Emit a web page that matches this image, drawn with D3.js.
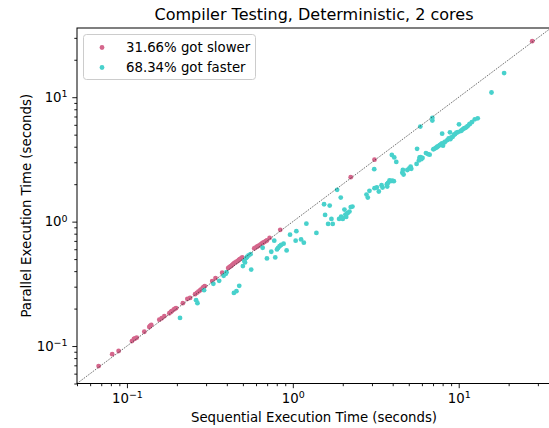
<!DOCTYPE html>
<html>
<head>
<meta charset="utf-8">
<script src="https://cdn.jsdelivr.net/npm/d3@7"></script>
<style>
  body { margin: 0; background: #fff; }
  text { font-family: "DejaVu Sans", sans-serif; fill: #000; }
</style>
</head>
<body>
<script>
// labels
const title = "Compiler Testing, Deterministic, 2 cores";
const xLabel = "Sequential Execution Time (seconds)";
const yLabel = "Parallel Execution Time (seconds)";
const legendLabels = ["31.66% got slower", "68.34% got faster"];
const majorTicks = [0.1, 1, 10];
const tickExponents = ["\u22121", "0", "1"];

// [sequential, parallel] seconds
const slower = [
  [0.0675, 0.069], [0.0815, 0.0861], [0.0891, 0.0912], [0.1072, 0.1097], [0.1102, 0.1139],
  [0.1145, 0.1167], [0.1273, 0.1303], [0.1364, 0.1423], [0.1402, 0.1477], [0.1567, 0.163],
  [0.1621, 0.1673], [0.168, 0.1738], [0.1802, 0.1835], [0.1862, 0.1905], [0.1915, 0.1963],
  [0.1977, 0.2014], [0.2172, 0.221], [0.2313, 0.2394], [0.2402, 0.2438], [0.2576, 0.2612],
  [0.2698, 0.2742], [0.2788, 0.2844], [0.2866, 0.2951], [0.2946, 0.3029], [0.3266, 0.3327],
  [0.342, 0.3516], [0.375, 0.3882], [0.4074, 0.4236], [0.4236, 0.4395], [0.4365, 0.456],
  [0.4508, 0.4699], [0.4667, 0.4842], [0.4797, 0.5], [0.4955, 0.5152], [0.5848, 0.6095],
  [0.6081, 0.6289], [0.6281, 0.6442], [0.6516, 0.6683], [0.673, 0.6856], [0.6982, 0.7063],
  [0.7244, 0.74], [0.84, 0.86], [2.234, 2.275], [3.107, 3.15], [27.73, 28.2],
  [0.415, 0.432], [0.43, 0.447], [0.443, 0.463], [0.458, 0.477], [0.473, 0.492],
  [0.488, 0.507], [0.596, 0.619], [0.618, 0.636], [0.64, 0.656], [0.662, 0.677],
  [0.686, 0.696], [0.264, 0.268], [0.275, 0.279], [0.291, 0.299], [0.184, 0.188],
  [0.194, 0.199], [0.112, 0.115], [0.138, 0.145]
];

const faster = [
  [0.2089, 0.1683], [0.2612, 0.2339], [0.2661, 0.221], [0.2917, 0.2812], [0.3319, 0.3162],
  [0.3597, 0.3342], [0.3828, 0.3672], [0.3948, 0.3808], [0.3981, 0.392], [0.4413, 0.2675],
  [0.4571, 0.2761], [0.4753, 0.3048], [0.5, 0.4395], [0.5093, 0.4842], [0.5236, 0.5093],
  [0.5408, 0.5346], [0.5559, 0.548], [0.561, 0.4121], [0.6577, 0.6166], [0.6982, 0.5058],
  [0.7413, 0.5728], [0.7727, 0.7031], [0.7834, 0.5152], [0.8027, 0.5979], [0.8321, 0.6339],
  [0.8799, 0.6647], [0.9173, 0.5869], [0.962, 0.7856], [1.04, 0.7031], [1.05, 0.8384],
  [1.121, 0.7194], [1.165, 0.6768], [1.207, 0.9635], [1.387, 0.811], [1.543, 1.379],
  [1.668, 1.346], [1.565, 1.132], [1.709, 1.051], [1.632, 0.958], [1.74, 0.958],
  [1.849, 1.801], [1.945, 1.561], [2.047, 1.25], [1.901, 1.051], [1.955, 1.097],
  [2.0, 1.051], [2.076, 1.139], [2.143, 1.175], [2.194, 1.204], [2.288, 1.321],
  [2.234, 1.309], [2.097, 1.091], [2.78, 1.651], [2.831, 1.561], [2.897, 1.769],
  [3.108, 1.856], [3.208, 1.88], [3.298, 1.746], [3.427, 1.963], [3.475, 1.88],
  [3.69, 2.0], [3.707, 1.916], [3.095, 2.642], [3.828, 2.142], [3.974, 2.13],
  [4.064, 2.113], [3.953, 3.437], [4.088, 3.281], [4.204, 3.018], [4.571, 2.47],
  [4.607, 2.602], [4.652, 2.393], [5.036, 2.675], [5.129, 2.761], [5.176, 2.661],
  [5.572, 2.909], [5.754, 3.104], [5.611, 3.846], [5.87, 5.803], [6.935, 6.834],
  [6.935, 6.487], [5.81, 3.281], [5.953, 3.179], [5.891, 3.301], [6.346, 3.555],
  [6.524, 3.489], [6.68, 3.45], [7.031, 3.809], [7.261, 3.9], [7.435, 4.0],
  [7.678, 4.121], [7.925, 4.256], [8.04, 4.076], [8.197, 4.335], [8.545, 4.527],
  [8.7, 4.669], [9.03, 4.757], [7.945, 5.096], [8.856, 5.222], [9.367, 4.985],
  [9.68, 5.191], [10.04, 6.057], [10.28, 5.348], [10.57, 5.521], [10.76, 5.623],
  [11.1, 5.728], [11.6, 6.057], [11.66, 6.095], [12.5, 6.647], [13.02, 6.77],
  [15.76, 10.91], [18.78, 15.62],
  [7.1, 3.85], [7.35, 3.95], [7.55, 4.05], [7.8, 4.18], [8.3, 4.4],
  [8.9, 4.6], [9.2, 4.8], [9.5, 5.05], [9.9, 5.25], [10.4, 5.4],
  [10.9, 5.65], [11.3, 5.85], [12.0, 6.3], [5.85, 3.22], [6.05, 3.25],
  [1.98, 1.07], [2.12, 1.16], [0.515, 0.47], [0.53, 0.52], [0.815, 0.615],
  [0.85, 0.65], [3.75, 2.05], [3.9, 2.12], [4.9, 2.6]
];

const slowColor = "#d5668c";
const fastColor = "#48d1cc";

const w = 549;
const h = 428;
const pLeft = 77, pRight = 551, pTop = 28, pBottom = 383.5;
const fontSize = "13.3px";

const x = d3.scaleLog().domain([0.05, 36]).range([pLeft, pRight]);
const y = d3.scaleLog().domain([0.05, 36]).range([pBottom, pTop]);

// minor ticks 2..9 of each decade that fall inside the domain
const minorTicks = [];
[0.01, 0.1, 1, 10].forEach(d => {
  for (let k = 2; k <= 9; k++) {
    const v = d * k;
    if (v >= 0.05 && v <= 36) minorTicks.push(v);
  }
});

const svg = d3.select("body").append("svg")
  .attr("width", w)
  .attr("height", h);

svg.append("defs").append("clipPath").attr("id", "plot")
  .append("rect")
  .attr("x", pLeft).attr("y", pTop)
  .attr("width", pRight - pLeft).attr("height", pBottom - pTop);

const plot = svg.append("g").attr("clip-path", "url(#plot)");

plot.selectAll("circle.slow")
  .data(slower)
  .enter()
  .append("circle")
  .attr("class", "slow")
  .attr("cx", d => x(d[0]))
  .attr("cy", d => y(d[1]))
  .attr("r", 2.4)
  .attr("fill", slowColor);

plot.selectAll("circle.fast")
  .data(faster)
  .enter()
  .append("circle")
  .attr("class", "fast")
  .attr("cx", d => x(d[0]))
  .attr("cy", d => y(d[1]))
  .attr("r", 2.4)
  .attr("fill", fastColor);

// y = x reference line
plot.append("line")
  .attr("x1", x(0.05)).attr("y1", y(0.05))
  .attr("x2", x(36)).attr("y2", y(36))
  .attr("stroke", "#333")
  .attr("stroke-width", 0.7)
  .attr("stroke-dasharray", "1.6,1.2");

// axes
function superLabel(sel) {
  sel.selectAll(".tick text").each(function(d, i) {
    const t = d3.select(this).text("10");
    t.append("tspan")
      .attr("dy", "-0.5em")
      .style("font-size", "9.5px")
      .text(tickExponents[i]);
  });
}

const xMajor = svg.append("g")
  .attr("transform", "translate(0," + pBottom + ")")
  .call(d3.axisBottom(x).tickValues(majorTicks).tickSize(4.7).tickSizeOuter(0).tickPadding(5.5).tickFormat(() => ""));
xMajor.call(superLabel);

svg.append("g")
  .attr("transform", "translate(0," + pBottom + ")")
  .call(d3.axisBottom(x).tickValues(minorTicks).tickSize(2.7).tickSizeOuter(0).tickFormat(() => ""));

const yMajor = svg.append("g")
  .attr("transform", "translate(" + pLeft + ",0)")
  .call(d3.axisLeft(y).tickValues(majorTicks).tickSize(4.7).tickSizeOuter(0).tickPadding(4.7).tickFormat(() => ""));
yMajor.call(superLabel);

svg.append("g")
  .attr("transform", "translate(" + pLeft + ",0)")
  .call(d3.axisLeft(y).tickValues(minorTicks).tickSize(2.7).tickSizeOuter(0).tickFormat(() => ""));

svg.selectAll(".domain").remove();
svg.selectAll(".tick line").attr("stroke", "#000").attr("stroke-width", 0.9);
svg.selectAll(".tick text").style("font-size", fontSize).style("font-family", "DejaVu Sans");

// frame
svg.append("rect")
  .attr("x", pLeft).attr("y", pTop)
  .attr("width", pRight - pLeft).attr("height", pBottom - pTop)
  .attr("fill", "none")
  .attr("stroke", "#000")
  .attr("stroke-width", 1);

// titles
svg.append("text")
  .attr("x", (pLeft + pRight) / 2)
  .attr("y", 20)
  .attr("text-anchor", "middle")
  .style("font-size", "16px")
  .text(title);

svg.append("text")
  .attr("x", (pLeft + pRight) / 2)
  .attr("y", 422)
  .attr("text-anchor", "middle")
  .style("font-size", fontSize)
  .text(xLabel);

svg.append("text")
  .attr("transform", "translate(31," + ((pTop + pBottom) / 2) + ") rotate(-90)")
  .attr("text-anchor", "middle")
  .style("font-size", fontSize)
  .text(yLabel);

// legend
const legend = svg.append("g");
legend.append("rect")
  .attr("x", 83.5).attr("y", 34.5)
  .attr("width", 172).attr("height", 45)
  .attr("rx", 3)
  .attr("fill", "#fff")
  .attr("fill-opacity", 0.8)
  .attr("stroke", "#ccc");

legend.selectAll("circle")
  .data([slowColor, fastColor])
  .enter()
  .append("circle")
  .attr("cx", 102)
  .attr("cy", (d, i) => 47.5 + i * 20)
  .attr("r", 2.4)
  .attr("fill", d => d);

legend.selectAll("text")
  .data(legendLabels)
  .enter()
  .append("text")
  .attr("x", 126)
  .attr("y", (d, i) => 52.3 + i * 20)
  .style("font-size", fontSize)
  .text(d => d);
</script>
</body>
</html>
